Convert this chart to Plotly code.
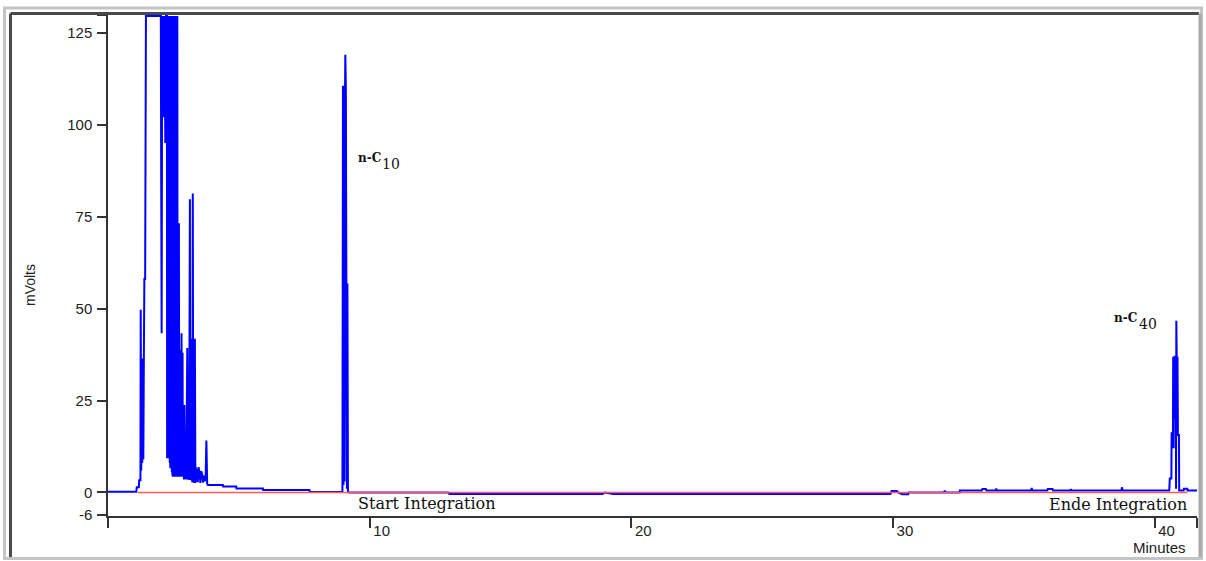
import plotly.graph_objects as go

# ---- chromatogram data (time in minutes, signal in mV) ----
# light fraction / solvent front, saturated detector reads 129.5
front_t = [0.00, 1.08, 1.10, 1.18, 1.19, 1.24, 1.25, 1.27, 1.29, 1.31, 1.33, 1.35, 1.37, 1.39,
           1.42, 1.45, 2.02, 2.03, 2.05, 2.07, 2.10, 2.12, 2.14, 2.16, 2.19, 2.22, 2.25]
front_mv = [0.2, 0.2, 1.4, 1.4, 3.3, 3.3, 49.7, 6.0, 36.4, 8.0, 36.4, 9.0, 36.4, 58.0,
            58.0, 129.5, 129.5, 91.6, 43.3, 129.5, 107.0, 129.5, 102.0, 129.5, 95.0, 129.5, 129.5]

cluster_t = [2.26, 2.27, 2.28, 2.29, 2.30, 2.31, 2.32, 2.33, 2.34, 2.35, 2.36, 2.37, 2.38, 2.39,
             2.40, 2.41, 2.42, 2.43, 2.44, 2.45, 2.46, 2.47, 2.48, 2.49, 2.50, 2.51, 2.52, 2.53,
             2.54, 2.55, 2.56, 2.57, 2.58, 2.59, 2.60, 2.61, 2.62, 2.63, 2.64, 2.65, 2.66, 2.67,
             2.68, 2.69, 2.70, 2.71, 2.72, 2.73, 2.75, 2.77, 2.79, 2.81, 2.83, 2.85, 2.86, 2.88,
             2.90, 2.92, 2.94, 2.96, 2.98, 3.00, 3.03, 3.05, 3.08, 3.10, 3.13, 3.14, 3.16, 3.18,
             3.20, 3.22, 3.24, 3.26, 3.28, 3.30, 3.32, 3.34, 3.35, 3.38, 3.40, 3.43, 3.46, 3.50,
             3.53, 3.56, 3.60, 3.63, 3.66, 3.70, 3.73, 3.76, 3.79, 3.82, 4.39, 4.40, 4.90, 4.91,
             5.92, 5.93, 7.70, 7.71, 8.96]
cluster_mv = [9.3, 129.5, 12.0, 129.5, 9.3, 129.5, 10.5, 129.5, 9.3, 129.5, 8.0, 129.5, 6.6, 129.5,
              7.2, 129.5, 6.6, 129.5, 5.5, 129.5, 4.6, 129.5, 4.3, 129.5, 4.8, 129.5, 4.3, 129.5,
              4.5, 129.5, 4.3, 129.5, 5.0, 129.5, 4.3, 129.5, 4.6, 129.5, 4.3, 129.5, 4.4, 73.2,
              4.5, 73.2, 4.3, 73.2, 4.4, 38.7, 4.3, 38.7, 4.5, 43.3, 4.3, 38.0, 4.3, 23.8,
              3.5, 23.8, 3.6, 12.4, 3.5, 12.4, 39.3, 3.5, 20.5, 3.4, 79.7, 3.5, 41.8, 3.3,
              41.8, 2.8, 81.3, 2.7, 41.8, 2.6, 41.8, 2.6, 7.0, 3.0, 6.5, 2.8, 6.9, 5.4,
              2.6, 5.8, 5.0, 2.7, 4.6, 3.0, 4.2, 14.1, 2.4, 2.0, 2.0, 1.6, 1.6, 1.1,
              1.1, 0.7, 0.7, 0.1, 0.1]

# n-C10 peak
c10_t = [8.98, 9.00, 9.02, 9.04, 9.06, 9.07, 9.09, 9.11, 9.13, 9.15, 9.17]
c10_mv = [110.6, 2.0, 110.6, 3.0, 110.6, 119.0, 110.6, 56.8, 1.0, 56.8, 0.2]

# baseline through the integration window
base_t = [9.19, 13.00, 13.05, 18.90, 19.00, 19.30, 19.50, 29.90, 29.95, 30.15, 30.20, 30.35,
          30.58, 30.60, 31.95, 31.98, 32.02, 32.55, 32.56, 33.40, 33.42, 33.55, 33.57, 33.93,
          33.95, 33.97, 35.28, 35.30, 35.33, 35.90, 35.92, 36.10, 36.12, 36.78, 36.80, 36.83,
          38.73, 38.75, 38.78, 40.56]
base_mv = [0.0, 0.0, -0.4, -0.4, 0.0, -0.4, -0.4, -0.4, 0.4, 0.4, 0.0, -0.5,
           -0.5, 0.0, 0.0, 0.5, 0.0, 0.0, 0.5, 0.5, 0.95, 0.95, 0.5, 0.5,
           1.1, 0.5, 0.5, 1.2, 0.5, 0.5, 0.95, 0.95, 0.5, 0.5, 0.9, 0.5,
           0.5, 1.4, 0.5, 0.5]

# n-C40 peak and end of run
c40_t = [40.58, 40.64, 40.65, 40.70, 40.71, 40.725, 40.74, 40.755, 40.77, 40.79, 40.81, 40.82,
         40.83, 40.845, 40.86, 40.875, 40.89, 40.93, 40.94, 41.11, 41.12, 41.25, 41.26, 41.62]
c40_mv = [3.8, 3.8, 16.1, 16.1, 36.9, 12.0, 36.9, 20.0, 36.9, 36.9, 23.8, 1.0,
          46.7, 36.9, 24.0, 36.9, 15.6, 15.6, 0.5, 0.5, 1.0, 1.0, 0.5, 0.5]

# integration baseline
integration_t = [1.13, 41.25]
integration_mv = [0.0, 0.0]

# axis ticks
x_ticks = [0, 10, 20, 30, 40, 41.62]
x_ticktext = ["", "10", "20", "30", "40", ""]
y_ticks = [-6, 0, 25, 50, 75, 100, 125, 129.8]
y_ticktext = ["-6", "0", "25", "50", "75", "100", "125", ""]

signal_t = front_t + cluster_t + c10_t + base_t + c40_t
signal_mv = front_mv + cluster_mv + c10_mv + base_mv + c40_mv

W, H = 1206, 561
ML, MR, MT, MB = 108, 9, 15, 45
PW, PH = W - ML - MR, H - MT - MB


def px(xp):
    return (xp - ML) / PW


def py(yp):
    return (H - MB - yp) / PH


fig = go.Figure()
fig.add_trace(go.Scatter(x=signal_t, y=signal_mv, mode="lines",
                         line=dict(color="#0000ff", width=2, simplify=False), hoverinfo="skip"))
fig.add_trace(go.Scatter(x=integration_t, y=integration_mv, mode="lines",
                         line=dict(color="#ff5a5a", width=1.5), hoverinfo="skip"))

tick_font = dict(family="Liberation Sans, Arial, sans-serif", size=15, color="#222222")
serif = "DejaVu Serif, serif"

fig.update_layout(
    width=W, height=H,
    margin=dict(l=ML, r=MR, t=MT, b=MB),
    paper_bgcolor="white", plot_bgcolor="white",
    showlegend=False,
    xaxis=dict(range=[0, 41.62], tickmode="array", tickvals=x_ticks, ticktext=x_ticktext,
               ticks="outside", ticklen=10, tickwidth=1.5, tickcolor="#333333",
               showline=True, linecolor="#333333", linewidth=1.5, showgrid=False, zeroline=False,
               tickfont=tick_font, ticklabelshift=12, ticklabelstandoff=-10),
    yaxis=dict(range=[-6.4, 129.8], tickmode="array", tickvals=y_ticks, ticktext=y_ticktext,
               ticks="outside", ticklen=9, tickwidth=1.5, tickcolor="#333333",
               showline=True, linecolor="#333333", linewidth=1.5, showgrid=False, zeroline=False,
               tickfont=tick_font, ticklabelstandoff=2),
)

annotations = [
    dict(text="<b>n-C</b>", x=px(356), y=py(158), font=dict(family=serif, size=12, color="#111111"),
         xanchor="left", yanchor="middle"),
    dict(text="10", x=px(380), y=py(164), font=dict(family=serif, size=14, color="#111111"),
         xanchor="left", yanchor="middle"),
    dict(text="<b>n-C</b>", x=px(1112), y=py(318), font=dict(family=serif, size=12, color="#111111"),
         xanchor="left", yanchor="middle"),
    dict(text="40", x=px(1137), y=py(324), font=dict(family=serif, size=14, color="#111111"),
         xanchor="left", yanchor="middle"),
    dict(text="Start Integration", x=px(356), y=py(503),
         font=dict(family=serif, size=16, color="#111111"), xanchor="left", yanchor="middle"),
    dict(text="Ende Integration", x=px(1189), y=py(504),
         font=dict(family=serif, size=16, color="#111111"), xanchor="right", yanchor="middle"),
    dict(text="Minutes", x=px(1159), y=py(547), font=tick_font, xanchor="center", yanchor="middle"),
    dict(text="mVolts", x=px(30), y=py(285), font=dict(family="Liberation Sans, Arial, sans-serif",
         size=14, color="#222222"), textangle=-90, xanchor="center", yanchor="middle"),
]
for a in annotations:
    a.update(xref="paper", yref="paper", showarrow=False)
fig.update_layout(annotations=annotations)

# panel frame: light outer edge, dark top/left inner edge
shapes = [
    dict(type="rect", x0=px(4.5), x1=px(1201.5), y0=py(8), y1=py(558.5),
         line=dict(color="#c4c4c4", width=3)),
    dict(type="line", x0=px(10.5), x1=px(1199), y0=py(13.5), y1=py(13.5),
         line=dict(color="#4a4a4a", width=3)),
    dict(type="line", x0=px(10.5), x1=px(10.5), y0=py(13.5), y1=py(557),
         line=dict(color="#4a4a4a", width=3)),
    dict(type="line", x0=px(1200), x1=px(1200), y0=py(13.5), y1=py(557),
         line=dict(color="#a8a8a8", width=3)),
]
for s in shapes:
    s.update(xref="paper", yref="paper", layer="above")
fig.update_layout(shapes=shapes)

fig.write_html("out.html")
